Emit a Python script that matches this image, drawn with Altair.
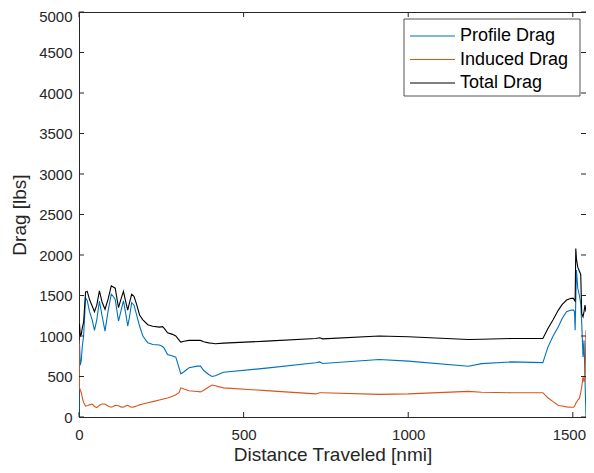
import altair as alt
import pandas as pd

# ---------------- data ----------------
distance = [0, 1.5, 4, 7, 10, 14, 20, 25, 32, 40, 47, 54, 62, 70, 79, 88, 98, 104,
            110, 120, 127, 135, 141, 148, 154, 160, 167, 175, 184, 194,
            209, 224, 244, 254, 259, 269, 284, 294, 304, 309, 319, 334, 359, 369,
            379, 394, 404, 414, 439, 569, 719, 731, 740, 912, 1000, 1183, 1223,
            1313, 1409, 1424, 1440, 1456, 1468, 1481, 1495, 1502, 1505, 1507,
            1509, 1511, 1515, 1520, 1524, 1527, 1531, 1534, 1537, 1540]

profile_drag = [0, 900, 640, 700, 870, 1000, 1470, 1440, 1300, 1200, 1070, 1200,
                1430, 1250, 1060, 1300, 1516, 1490, 1450, 1185, 1300, 1433, 1300,
                1123, 1250, 1412, 1380, 1260, 1123, 999,
                917, 896, 888, 870, 847, 772, 752, 739, 607, 533, 558, 607, 628,
                628, 574, 525, 500, 510, 553, 603, 669, 680, 660, 709, 690, 626,
                659, 680, 671, 860, 1000, 1113, 1220, 1299, 1320, 1320, 1300, 1072,
                1450, 1815, 1589, 1500, 1400, 1155, 741, 948, 452, 0]

induced_drag = [950, 360, 330, 300, 240, 180, 135, 140, 150, 160, 130, 115, 145,
                160, 160, 135, 120, 130, 145, 140, 125, 120, 135, 145, 130, 120,
                125, 135, 150, 160,
                175, 190, 210, 220, 225, 235, 255, 275, 300, 360, 345, 325, 315,
                310, 330, 370, 395, 385, 360, 326, 285, 300, 300, 279, 285, 316,
                305, 300, 300, 238, 190, 142, 135, 125, 121, 121, 130, 150, 170,
                180, 210, 230, 300, 370, 493, 440, 452, 1072]

total_drag = [1040, 1150, 1000, 1020, 1100, 1170, 1545, 1550, 1450, 1370, 1300,
              1380, 1557, 1420, 1330, 1450, 1620, 1605, 1590, 1350, 1450, 1550,
              1440, 1318, 1420, 1515, 1490, 1390, 1260, 1200,
              1140, 1120, 1110, 1115, 1094, 1040, 1020, 1000, 950, 925, 935, 946,
              946, 946, 930, 915, 910, 905, 912, 937, 970, 978, 965, 1000, 990,
              956, 960, 969, 969, 1090, 1200, 1320, 1390, 1444, 1465, 1465, 1440,
              1430, 2080, 1950, 1850, 1800, 1760, 1279, 1238, 1300, 1382, 1300]

series_names = ["Profile Drag", "Induced Drag", "Total Drag"]
series_colors = ["#0072BD", "#D95319", "#000000"]
x_ticks = [0, 500, 1000, 1500]
y_ticks = [0, 500, 1000, 1500, 2000, 2500, 3000, 3500, 4000, 4500, 5000]

rows = []
for name, vals in zip(series_names, [profile_drag, induced_drag, total_drag]):
    for d, v in zip(distance, vals):
        rows.append({"distance": d, "drag": v, "series": name})
df = pd.DataFrame(rows)

# ---------------- styling ----------------
W, H = 507, 405
FONT = "Liberation Sans"
AX = "#262626"
TL = 5

xscale = alt.Scale(domain=[0, 1540], nice=False, zero=False)
yscale = alt.Scale(domain=[0, 5000], nice=False)

x_axis = alt.Axis(values=x_ticks, format="d", tickSize=0, domain=False,
                  grid=False, labelFont=FONT, labelFontSize=15, labelColor=AX,
                  labelPadding=10, labelFlush=False,
                  labelOffset=alt.expr("datum.value == 1500 ? -4 : 0"),
                  title="Distance Traveled [nmi]", titleFont=FONT,
                  titleFontSize=19, titleFontWeight="normal",
                  titleColor=AX, titleX=W / 2, titleY=43,
                  titleAlign="center", titleBaseline="alphabetic")
y_axis = alt.Axis(values=y_ticks, format="d", tickSize=0, domain=False,
                  grid=False, labelFont=FONT, labelFontSize=15, labelColor=AX,
                  labelPadding=7,
                  labelOffset=alt.expr("datum.value == 5000 ? 4 : 0"),
                  title="Drag [lbs]", titleFont=FONT, titleFontSize=19,
                  titleFontWeight="normal", titleColor=AX,
                  titleX=-50, titleY=H / 2, titleAngle=270,
                  titleAlign="center", titleBaseline="bottom")

lines = alt.Chart(df).mark_line(strokeWidth=1.1, clip=True).encode(
    x=alt.X("distance:Q", scale=xscale, axis=x_axis),
    y=alt.Y("drag:Q", scale=yscale, axis=y_axis),
    color=alt.Color("series:N",
                    scale=alt.Scale(domain=series_names, range=series_colors),
                    legend=None),
)

xt = pd.DataFrame({"distance": x_ticks})
yt = pd.DataFrame({"drag": y_ticks})

bottom_ticks = alt.Chart(xt).mark_rule(color=AX, strokeWidth=1).encode(
    x=alt.X("distance:Q", scale=xscale, axis=x_axis),
    y=alt.value(H), y2=alt.value(H - TL))
top_ticks = alt.Chart(xt).mark_rule(color=AX, strokeWidth=1).encode(
    x=alt.X("distance:Q", scale=xscale, axis=x_axis),
    y=alt.value(0), y2=alt.value(TL))
left_ticks = alt.Chart(yt).mark_rule(color=AX, strokeWidth=1).encode(
    y=alt.Y("drag:Q", scale=yscale, axis=y_axis),
    x=alt.value(0), x2=alt.value(TL))
right_ticks = alt.Chart(yt).mark_rule(color=AX, strokeWidth=1).encode(
    y=alt.Y("drag:Q", scale=yscale, axis=y_axis),
    x=alt.value(W), x2=alt.value(W - TL))

# ---------------- legend (MATLAB-style box) ----------------
legend_layers = [
    alt.Chart(pd.DataFrame({"k": [0]})).mark_rect(
        fill="white", stroke=AX, strokeWidth=0.8).encode(
        x=alt.value(325), x2=alt.value(501), y=alt.value(7), y2=alt.value(84))
]
for name, color, yy in zip(series_names, series_colors, [24, 47.5, 71]):
    one = pd.DataFrame({"label": [name]})
    legend_layers.append(
        alt.Chart(one).mark_rule(color=color, strokeWidth=1.1).encode(
            x=alt.value(331), x2=alt.value(376), y=alt.value(yy)))
    legend_layers.append(
        alt.Chart(one).mark_text(align="left", baseline="middle", font=FONT,
                                 fontSize=18, color="#000000").encode(
            x=alt.value(381), y=alt.value(yy), text="label:N"))

chart = alt.layer(lines, bottom_ticks, top_ticks, left_ticks, right_ticks,
                  *legend_layers).properties(
    width=W, height=H,
    padding={"left": 71, "top": 4, "right": 0, "bottom": 48},
    autosize="none",
    background="white",
).configure_view(stroke=AX, strokeWidth=1)

chart.save("out.html", embed_options={"renderer": "svg", "actions": False})
